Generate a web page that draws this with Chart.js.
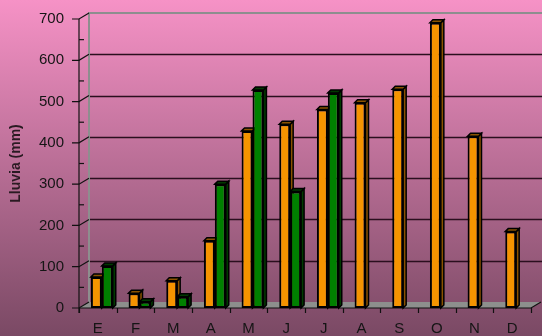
<!DOCTYPE html>
<html lang="es">
<head>
<meta charset="UTF-8">
<script src="https://cdn.jsdelivr.net/npm/chart.js"></script>
<style>
    html, body { margin: 0; padding: 0; }
    #wrap { width: 542px; height: 336px; position: relative; }
</style>
<title>Lluvia</title>
</head>
<body>
<div id="wrap"><canvas id="chart"></canvas></div>
<script>
    // datos
    const meses = ['E', 'F', 'M', 'A', 'M', 'J', 'J', 'A', 'S', 'O', 'N', 'D'];
    const lluviaNaranja = [75, 36, 66, 163, 429, 445, 481, 497, 530, 691, 416, 185];
    const lluviaVerde = [102, 15, 27, 300, 528, 282, 521, null, null, null, null, null];
    const ejeY = { min: 0, max: 700, paso: 100 };

    const FONT = "'Liberation Sans', Arial, sans-serif";
    const WALL_X = 10, WALL_Y = 6;   // profundidad de la pared del fondo
    const BAR_D = 3;                 // profundidad de las barras
    const SHIFT = 4;                 // desplazamiento 3D de las barras

    const darkColors = ['#8a5200', '#003a00'];

    const fondo3d = {
        id: 'fondo3d',
        beforeDraw(chart) {
            const ctx = chart.ctx;
            const a = chart.chartArea;
            const y = chart.scales.y;
            const x = chart.scales.x;

            ctx.save();
            // fondo degradado
            const g = ctx.createLinearGradient(0, 0, 0, chart.height);
            g.addColorStop(0, '#f692c6');
            g.addColorStop(1, '#7a4964');
            ctx.fillStyle = g;
            ctx.fillRect(0, 0, chart.width, chart.height);

            // suelo
            ctx.fillStyle = '#8d8f8d';
            ctx.beginPath();
            ctx.moveTo(a.left, a.bottom);
            ctx.lineTo(a.right, a.bottom);
            ctx.lineTo(a.right + WALL_X, a.bottom - WALL_Y);
            ctx.lineTo(a.left + WALL_X, a.bottom - WALL_Y);
            ctx.closePath();
            ctx.fill();

            // lineas de cuadricula en la pared
            ctx.strokeStyle = '#2a0f1e';
            ctx.lineWidth = 1.5;
            for (let v = ejeY.min + ejeY.paso; v < ejeY.max; v += ejeY.paso) {
                const py = Math.round(y.getPixelForValue(v) - WALL_Y) + 0.5;
                ctx.beginPath();
                ctx.moveTo(a.left + WALL_X, py);
                ctx.lineTo(chart.width, py);
                ctx.stroke();
            }

            // pared del fondo (gris)
            ctx.strokeStyle = '#8e8e8e';
            ctx.lineWidth = 2;
            const topY = y.getPixelForValue(ejeY.max) - WALL_Y;
            ctx.beginPath();
            ctx.moveTo(a.left + WALL_X, a.bottom - WALL_Y);
            ctx.lineTo(a.left + WALL_X, topY);
            ctx.lineTo(chart.width, topY);
            ctx.stroke();

            // eje vertical frontal y marcas
            ctx.strokeStyle = '#111';
            ctx.lineWidth = 1.2;
            ctx.beginPath();
            ctx.moveTo(a.left, y.getPixelForValue(ejeY.max));
            ctx.lineTo(a.left, a.bottom + 5);
            ctx.stroke();
            for (let v = ejeY.min; v <= ejeY.max; v += ejeY.paso) {
                const py = y.getPixelForValue(v);
                ctx.beginPath();
                ctx.moveTo(a.left - 7, py);
                ctx.lineTo(a.left, py);
                ctx.lineTo(a.left + WALL_X, py - WALL_Y);
                ctx.stroke();
            }
            for (let v = ejeY.min + ejeY.paso / 2; v < ejeY.max; v += ejeY.paso) {
                const py = y.getPixelForValue(v);
                ctx.beginPath();
                ctx.moveTo(a.left, py);
                ctx.lineTo(a.left + 5, py);
                ctx.stroke();
            }

            // borde frontal del suelo y marcas del eje x
            ctx.beginPath();
            ctx.moveTo(a.left, a.bottom);
            ctx.lineTo(a.right, a.bottom);
            ctx.lineTo(a.right + WALL_X, a.bottom - WALL_Y);
            ctx.stroke();
            const step = x.getPixelForValue(1) - x.getPixelForValue(0);
            for (let i = 0; i <= meses.length; i++) {
                const px = Math.round(x.getPixelForValue(i) - step / 2) + 0.5;
                ctx.beginPath();
                ctx.moveTo(px, a.bottom);
                ctx.lineTo(px, a.bottom + 5);
                ctx.stroke();
            }
            ctx.restore();
        },
        beforeDatasetsDraw(chart) {
            const ctx = chart.ctx;
            ctx.save();
            ctx.translate(SHIFT, 0);
            // caras laterales y tapas, detras de las caras frontales
            chart.data.datasets.forEach((ds, di) => {
                const meta = chart.getDatasetMeta(di);
                meta.data.forEach((el, i) => {
                    if (ds.data[i] == null) return;
                    const x0 = el.x - el.width / 2;
                    const x1 = el.x + el.width / 2;
                    const top = el.y, base = el.base;
                    ctx.fillStyle = darkColors[di];
                    ctx.strokeStyle = '#000';
                    ctx.lineWidth = 1.5;
                    ctx.beginPath();
                    ctx.moveTo(x1, top);
                    ctx.lineTo(x1 + BAR_D, top - BAR_D);
                    ctx.lineTo(x1 + BAR_D, base - BAR_D);
                    ctx.lineTo(x1, base);
                    ctx.closePath();
                    ctx.fill();
                    ctx.stroke();
                    ctx.beginPath();
                    ctx.moveTo(x0, top);
                    ctx.lineTo(x0 + BAR_D, top - BAR_D);
                    ctx.lineTo(x1 + BAR_D, top - BAR_D);
                    ctx.lineTo(x1, top);
                    ctx.closePath();
                    ctx.fill();
                    ctx.stroke();
                });
            });
        },
        afterDatasetsDraw(chart) {
            chart.ctx.restore();
        }
    };

    new Chart(document.getElementById('chart'), {
        type: 'bar',
        data: {
            labels: meses,
            datasets: [
                {
                    label: 'Serie 1',
                    data: lluviaNaranja,
                    backgroundColor: '#f59400',
                    borderColor: '#000',
                    borderWidth: 2,
                    borderSkipped: false
                },
                {
                    label: 'Serie 2',
                    data: lluviaVerde,
                    backgroundColor: '#008000',
                    borderColor: '#000',
                    borderWidth: 2,
                    borderSkipped: false
                }
            ]
        },
        options: {
            responsive: true,
            maintainAspectRatio: false,
            animation: false,
            layout: { padding: { top: 19, right: 11, left: 0, bottom: 0 } },
            datasets: { bar: { barPercentage: 1, categoryPercentage: 0.58 } },
            plugins: { legend: { display: false }, tooltip: { enabled: false } },
            scales: {
                x: {
                    grid: { display: false },
                    border: { display: false },
                    ticks: { color: '#151515', font: { family: FONT, size: 15 }, padding: 4 },
                    afterFit(s) { s.height = 28; }
                },
                y: {
                    min: ejeY.min,
                    max: ejeY.max,
                    grid: { display: false },
                    border: { display: false },
                    ticks: { stepSize: ejeY.paso, color: '#151515', font: { family: FONT, size: 15 }, padding: 7 },
                    title: {
                        display: true,
                        text: 'Lluvia (mm)',
                        color: '#2a1a22',
                        font: { family: FONT, size: 14, weight: 'bold' },
                        padding: { top: 8, bottom: 0 }
                    },
                    afterFit(s) { s.width = 79; }
                }
            }
        },
        plugins: [fondo3d]
    });
</script>
</body>
</html>
